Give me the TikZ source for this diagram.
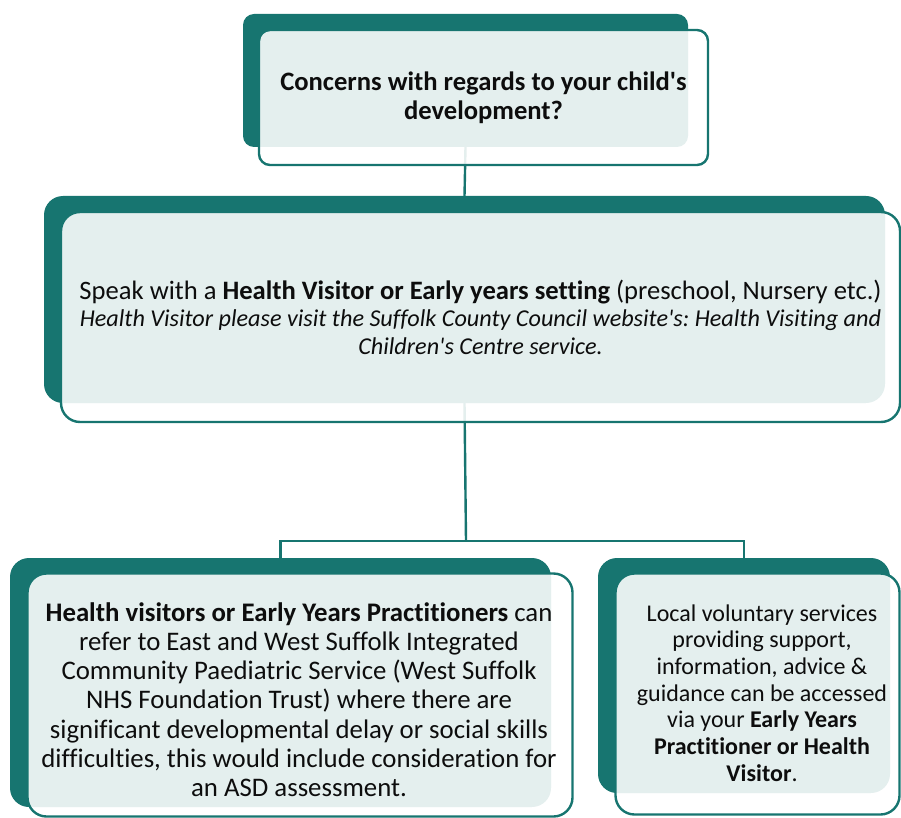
\documentclass[tikz,border=0pt]{standalone}
\usepackage{fontspec}
\setmainfont{Carlito}[Ligatures={TeXOff,NoCommon}]
\definecolor{teal1}{RGB}{23,117,112}
\definecolor{ink}{RGB}{13,13,13}
\tikzset{
  darkbox/.style={fill=teal1, inner sep=0pt, outer sep=0pt},
  litebox/.style={draw=teal1, line width=2.4pt, fill=white, fill opacity=0.885,
    text opacity=1, text=ink, align=center, inner sep=0pt, outer sep=0pt},
  txt/.style={text=ink, align=center, inner sep=0pt},
  conn/.style={draw=teal1, line width=2.4pt}
}
\begin{document}
\frenchspacing
\begin{tikzpicture}[x=1pt,y=-1pt]
\useasboundingbox (0,0) rectangle (901,818);
% dark backing boxes
\node[darkbox, rounded corners=11pt, minimum width=445pt, minimum height=133pt] (topdark) at (465.5,80.5) {};
\node[darkbox, rounded corners=19pt, minimum width=841pt, minimum height=207pt] (middark) at (464.5,299.5) {};
\node[darkbox, rounded corners=19pt, minimum width=541pt, minimum height=249pt] (bldark) at (280.5,682.5) {};
\node[darkbox, rounded corners=19pt, minimum width=292pt, minimum height=235pt] (brdark) at (744,675.5) {};
% connectors
\coordinate (split) at (466,541);
\draw[conn] (topdark.south) -- (middark.north);
\draw[conn] (middark.south) -- (split);
\draw[conn] (bldark.north) |- (split) -| (brdark.north);
% front boxes
\node[litebox, rounded corners=11pt, minimum width=449pt, minimum height=135pt,
  font=\fontsize{26.6}{29}\selectfont\bfseries] (top) at (483.5,97.5)
  {Concerns with regards to your child's\\ development?};
\node[litebox, rounded corners=19pt, minimum width=839pt, minimum height=210pt,
  font=\fontsize{26.6}{27.5}\selectfont] (mid) at (480.5,317)
  {Speak with a \textbf{Health Visitor or Early years setting} (preschool, Nursery etc.)\\
   {\fontsize{24.2}{27.5}\selectfont\itshape Health Visitor please visit the Suffolk County Council website's: Health Visiting and}\\
   {\fontsize{24.2}{27.5}\selectfont\itshape Children's Centre service.}};
\node[litebox, rounded corners=19pt, minimum width=545pt, minimum height=243pt] (bl) at (300,695) {};
\node[txt, font=\fontsize{26.8}{29.2}\selectfont] (bltext) at (299,699.5)
  {\textbf{Health visitors or Early Years Practitioners} can\\
   refer to East and West Suffolk Integrated\\
   Community Paediatric Service (West Suffolk\\
   NHS Foundation Trust) where there are\\
   significant developmental delay or social skills\\
   difficulties, this would include consideration for\\
   an ASD assessment.};
\node[litebox, rounded corners=19pt, minimum width=284pt, minimum height=241pt] (br) at (757.5,694) {};
\node[txt, font=\fontsize{24}{26.7}\selectfont] (brtext) at (762,693)
  {Local voluntary services\\
   providing support,\\
   information, advice \&\\
   guidance can be accessed\\
   via your \textbf{Early Years}\\
   \textbf{Practitioner or Health}\\
   \textbf{Visitor}.};
\end{tikzpicture}
\end{document}
